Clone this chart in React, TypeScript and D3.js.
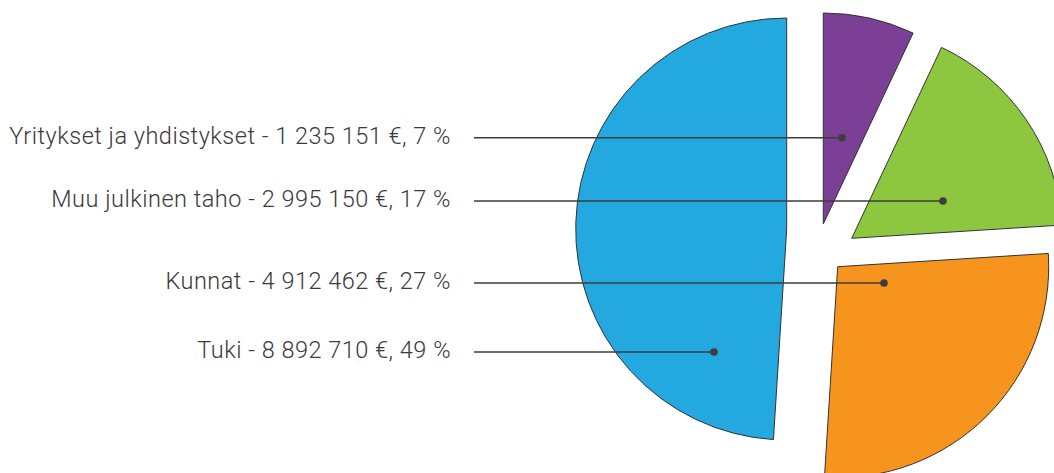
import React from "react";
import * as d3 from "d3";

// ---- data ----
const categories = ["Yritykset ja yhdistykset", "Muu julkinen taho", "Kunnat", "Tuki"];
const amounts = ["1 235 151", "2 995 150", "4 912 462", "8 892 710"];
const percents = [7, 17, 27, 49];
const colors = ["#7B3F96", "#8DC63F", "#F7941E", "#23A8E0"];

// ---- layout ----
const W = 1054;
const H = 473;
const CX = 812;
const CY = 240;
const R = 211;
const explode: [number, number][] = [
  [11.3, -16],
  [39.7, -1.7],
  [25.7, 26.7],
  [-25.3, -11],
];
const labelY = [137.7, 201, 283, 352];
const dotX = [842, 943, 884, 714];
const lineStartX = 474;
const textRightX = 451;

export default function App() {
  const pie = d3
    .pie<number>()
    .sort(null)
    .value((d) => d)
    .startAngle(0)
    .endAngle(2 * Math.PI);
  const arcs = pie(percents);
  const arc = d3.arc<d3.PieArcDatum<number>>().innerRadius(0).outerRadius(R);

  return (
    <svg
      width={W}
      height={H}
      style={{ position: "absolute", left: 0, top: 0, background: "#fff" }}
      fontFamily="Roboto, 'Open Sans', sans-serif"
    >
      {arcs.map((a, i) => (
        <path
          key={i}
          d={arc(a) || ""}
          transform={`translate(${CX + explode[i][0]},${CY + explode[i][1]})`}
          fill={colors[i]}
          stroke="#333"
          strokeWidth={1}
          strokeLinejoin="miter"
        />
      ))}
      {categories.map((c, i) => (
        <g key={c}>
          <line
            x1={lineStartX}
            x2={dotX[i]}
            y1={labelY[i]}
            y2={labelY[i]}
            stroke="#3d3d3d"
            strokeWidth={1.6}
          />
          <circle cx={dotX[i]} cy={labelY[i]} r={3.8} fill="#3d3d3d" />
          <text
            x={textRightX}
            y={labelY[i] + 6}
            textAnchor="end"
            fontSize={23.5}
            fontWeight={300}
            letterSpacing={0.5}
            fill="#3a3a3a"
          >
            {`${c} - ${amounts[i]} €, ${percents[i]} %`}
          </text>
        </g>
      ))}
    </svg>
  );
}
